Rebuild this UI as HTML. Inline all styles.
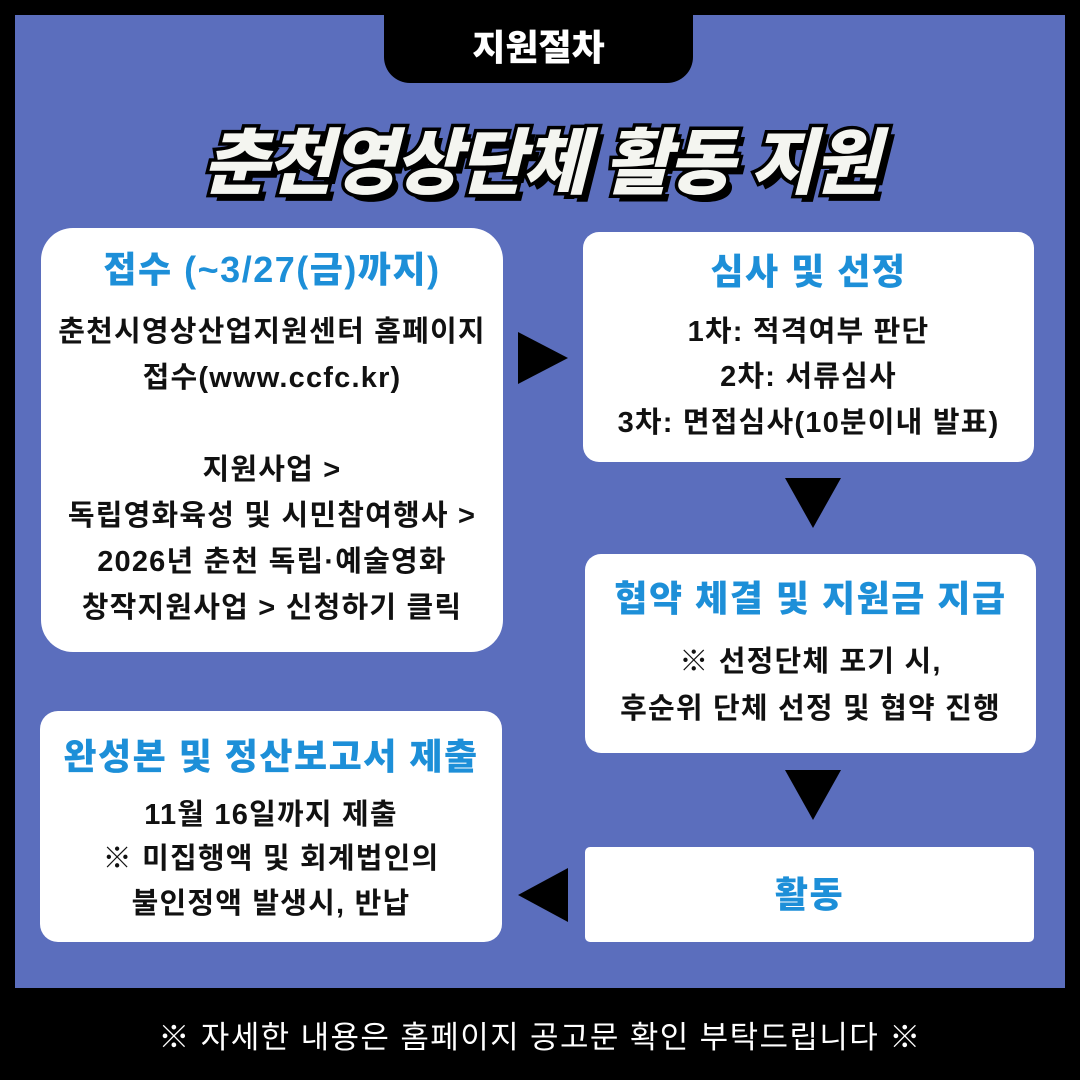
<!DOCTYPE html>
<html><head><meta charset="utf-8"><style>
*{margin:0;padding:0;box-sizing:border-box}
body{width:1080px;height:1080px;background:#000;position:relative;overflow:hidden;font-family:"Liberation Sans","Noto Sans CJK KR",sans-serif}
.bg{position:absolute;left:15px;top:15px;width:1050px;height:973px;background:#5b6ebd}
.tab{position:absolute;left:384px;top:10px;width:309px;height:73px;background:#000;border-radius:0 0 26px 26px;color:#fff;font-weight:900;font-size:36px;text-align:center;line-height:76px;letter-spacing:0px}
.title{position:absolute;left:0;width:1080px;top:104px;text-align:center;font-size:72px;font-weight:900;font-style:italic;color:#f4f5f0;letter-spacing:-2.3px;-webkit-text-stroke:7px #000;paint-order:stroke fill;text-shadow:6px 7px 0 #000}
.box{position:absolute;background:#fff;text-align:center;color:#111;font-weight:700;font-size:29px;letter-spacing:1.2px;white-space:nowrap}
.box .h{color:#1d8fd8;font-size:36px;font-weight:900;letter-spacing:1.5px}
.tri{position:absolute;width:0;height:0}
.foot{position:absolute;left:0;width:1080px;top:1012px;text-align:center;color:#fff;font-size:31px;letter-spacing:1.4px}
</style></head><body>
<div class="bg"></div>
<div class="tab">지원절차</div>
<div class="title">춘천영상단체 활동 지원</div>

<div class="box" style="left:41px;top:228px;width:462px;height:424px;border-radius:32px;line-height:46px;padding-top:19px">
<div class="h" style="margin-bottom:16px">접수 (~3/27(금)까지)</div>
<div>춘천시영상산업지원센터 홈페이지<br>접수(www.ccfc.kr)<br>&nbsp;<br>지원사업 &gt;<br>독립영화육성 및 시민참여행사 &gt;<br>2026년 춘천 독립·예술영화<br>창작지원사업 &gt; 신청하기 클릭</div>
</div>

<div class="box" style="left:583px;top:232px;width:451px;height:230px;border-radius:16px;line-height:45.5px;padding-top:17px">
<div class="h" style="margin-bottom:15px">심사 및 선정</div>
<div>1차: 적격여부 판단<br>2차: 서류심사<br>3차: 면접심사(10분이내 발표)</div>
</div>

<div class="box" style="left:585px;top:554px;width:451px;height:199px;border-radius:16px;line-height:47px;padding-top:21px">
<div class="h" style="margin-bottom:17px">협약 체결 및 지원금 지급</div>
<div>※ 선정단체 포기 시,<br>후순위 단체 선정 및 협약 진행</div>
</div>

<div class="box" style="left:40px;top:711px;width:462px;height:231px;border-radius:18px;line-height:44.5px;padding-top:24px">
<div class="h" style="margin-bottom:13px">완성본 및 정산보고서 제출</div>
<div>11월 16일까지 제출<br>※ 미집행액 및 회계법인의<br>불인정액 발생시, 반납</div>
</div>

<div class="box" style="left:585px;top:847px;width:449px;height:95px;border-radius:5px;line-height:95px">
<div class="h">활동</div>
</div>

<div class="tri" style="left:518px;top:332px;border-top:26px solid transparent;border-bottom:26px solid transparent;border-left:50px solid #000"></div>
<div class="tri" style="left:785px;top:478px;border-left:28px solid transparent;border-right:28px solid transparent;border-top:50px solid #000"></div>
<div class="tri" style="left:785px;top:770px;border-left:28px solid transparent;border-right:28px solid transparent;border-top:50px solid #000"></div>
<div class="tri" style="left:518px;top:868px;border-top:27px solid transparent;border-bottom:27px solid transparent;border-right:50px solid #000"></div>

<div class="foot">※ 자세한 내용은 홈페이지 공고문 확인 부탁드립니다 ※</div>
</body></html>
